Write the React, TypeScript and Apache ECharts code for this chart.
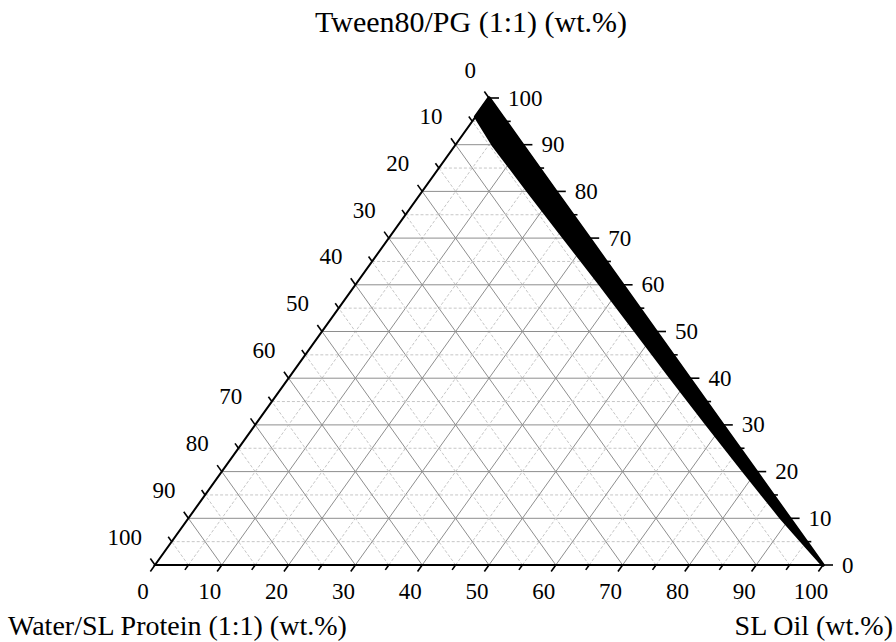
import React, { useEffect, useRef } from "react";
import * as echarts from "echarts";

// ---- axis values ----
const tickValues = [0, 10, 20, 30, 40, 50, 60, 70, 80, 90, 100];
const tickLabels = ["0", "10", "20", "30", "40", "50", "60", "70", "80", "90", "100"];
const minorValues = [5, 15, 25, 35, 45, 55, 65, 75, 85, 95];
const gridValues = [5, 10, 15, 20, 25, 30, 35, 40, 45, 50, 55, 60, 65, 70, 75, 80, 85, 90, 95];

// ---- shaded region: Tween level vs. inner Water boundary (wt.%) ----
const bandTween = [100, 96, 90, 80, 70, 60, 50, 40, 30, 20, 10, 4, 0];
const bandWater = [0, 4, 4.4, 4.1, 3.7, 3.3, 3.0, 2.7, 2.3, 1.8, 1.2, 0.5, 0];

// ---- titles ----
const titleTop = "Tween80/PG (1:1) (wt.%)";
const titleLeft = "Water/SL Protein (1:1) (wt.%)";
const titleRight = "SL Oil (wt.%)";

const FONT = "'Liberation Serif', 'Times New Roman', serif";

// ternary (water, tween) -> cartesian (x, y) on a 0..100 frame
const toXY = (water: number, tween: number) => [100 - water - tween / 2, tween];

// axis positions: 0 = bottom (SL Oil), 1 = left (Water), 2 = right (Tween)
const axisPoint = (axis: number, v: number) => {
  if (axis === 0) return toXY(100 - v, 0);
  if (axis === 1) return toXY(v, 100 - v);
  return toXY(0, v);
};

const gridLines: number[][] = [];
gridValues.forEach((v) => {
  const major = v % 10 === 0 ? 1 : 0;
  const a1 = toXY(100 - v, v), a2 = toXY(0, v); // constant Tween
  gridLines.push([a1[0], a1[1], a2[0], a2[1], major]);
  const b1 = toXY(100 - v, 0), b2 = toXY(0, 100 - v); // constant SL Oil
  gridLines.push([b1[0], b1[1], b2[0], b2[1], major]);
  const c1 = toXY(v, 0), c2 = toXY(v, 100 - v); // constant Water
  gridLines.push([c1[0], c1[1], c2[0], c2[1], major]);
});

const tickData: number[][] = [];
[0, 1, 2].forEach((ax) => {
  tickValues.forEach((v) => tickData.push([ax, v, 1]));
  minorValues.forEach((v) => tickData.push([ax, v, 0]));
});

const labelData: number[][] = [];
[0, 1, 2].forEach((ax) => tickValues.forEach((v, i) => labelData.push([ax, v, i])));

const unit = (a: number[], b: number[]) => {
  const dx = b[0] - a[0], dy = b[1] - a[1];
  const l = Math.hypot(dx, dy) || 1;
  return [dx / l, dy / l];
};

export default function App() {
  const ref = useRef<HTMLDivElement>(null);
  useEffect(() => {
    if (!ref.current) return;
    const chart = echarts.init(ref.current, undefined, { renderer: "svg" });
    const option: any = {
      animation: false,
      backgroundColor: "#ffffff",
      grid: { left: 155, right: 73, top: 98, bottom: 77 },
      xAxis: { type: "value", min: 0, max: 100, show: false },
      yAxis: { type: "value", min: 0, max: 100, show: false },
      graphic: [
        {
          type: "text",
          x: 471,
          y: 21,
          style: { text: titleTop, font: `30px ${FONT}`, fill: "#000", align: "center", verticalAlign: "middle", textAlign: "center", textVerticalAlign: "middle" },
        },
        {
          type: "text",
          x: 8,
          y: 625,
          style: { text: titleLeft, font: `28px ${FONT}`, fill: "#000", align: "left", verticalAlign: "middle", textAlign: "left", textVerticalAlign: "middle" },
        },
        {
          type: "text",
          x: 893,
          y: 625,
          style: { text: titleRight, font: `28px ${FONT}`, fill: "#000", align: "right", verticalAlign: "middle", textAlign: "right", textVerticalAlign: "middle" },
        },
      ],
      series: [
        {
          type: "custom",
          name: "grid",
          z: 1,
          silent: true,
          encode: { x: [0, 2], y: [1, 3] },
          data: gridLines,
          renderItem: (params: any, api: any) => {
            const p1 = api.coord([api.value(0), api.value(1)]);
            const p2 = api.coord([api.value(2), api.value(3)]);
            const major = api.value(4) === 1;
            return {
              type: "line",
              shape: { x1: p1[0], y1: p1[1], x2: p2[0], y2: p2[1] },
              style: {
                stroke: major ? "#8e8e8e" : "#c6c6c6",
                lineWidth: 1,
                lineDash: major ? null : [3, 2],
              },
            };
          },
        },
        {
          type: "custom",
          name: "band",
          z: 3,
          silent: true,
          data: [[0, 0]],
          renderItem: (params: any, api: any) => {
            const pts: number[][] = [];
            bandTween.forEach((t) => pts.push(api.coord(toXY(0, t))));
            for (let i = bandTween.length - 1; i >= 0; i--) {
              const t = bandTween[i];
              const w = Math.min(bandWater[i], 100 - t);
              pts.push(api.coord(toXY(w, t)));
            }
            return {
              type: "polygon",
              shape: { points: pts },
              style: { fill: "#000", stroke: "#000", lineWidth: 3.5, lineJoin: "round" },
            };
          },
        },
        {
          type: "custom",
          name: "frame",
          z: 4,
          silent: true,
          data: tickData,
          renderItem: (params: any, api: any) => {
            const children: any[] = [];
            if (params.dataIndex === 0) {
              const A = api.coord([0, 0]);
              const B = api.coord([100, 0]);
              const C = api.coord([50, 100]);
              children.push({
                type: "polygon",
                shape: { points: [A, B, C] },
                style: { fill: null, stroke: "#000", lineWidth: 2, lineJoin: "miter" },
              });
            }
            const ax = api.value(0);
            const v = api.value(1);
            const major = api.value(2) === 1;
            const p = api.coord(axisPoint(ax, v));
            let d: number[];
            if (ax === 0) {
              const u = unit(api.coord([0, 0]), api.coord([50, 100]));
              d = [-u[0], -u[1]];
            } else if (ax === 1) {
              d = unit(api.coord([100, 0]), api.coord([50, 100]));
            } else {
              d = [1, 0];
            }
            const len = ax === 2 ? (major ? 10 : 5) : major ? 8 : 6;
            children.push({
              type: "line",
              shape: { x1: p[0], y1: p[1], x2: p[0] + d[0] * len, y2: p[1] + d[1] * len },
              style: { stroke: "#000", lineWidth: 1.6 },
            });
            return { type: "group", children };
          },
        },
        {
          type: "custom",
          name: "labels",
          z: 5,
          silent: true,
          data: labelData,
          renderItem: (params: any, api: any) => {
            const ax = api.value(0);
            const v = api.value(1);
            const idx = api.value(2);
            const p = api.coord(axisPoint(ax, v));
            let x = p[0], y = p[1], align = "center";
            if (ax === 0) {
              x += -12; y += 26; align = "center";
            } else if (ax === 1) {
              x += -13; y += -28; align = "right";
            } else {
              x += 19; align = "left";
            }
            return {
              type: "text",
              x,
              y,
              style: {
                text: tickLabels[idx],
                font: `23px ${FONT}`,
                fill: "#000",
                align,
                verticalAlign: "middle",
                textAlign: align,
                textVerticalAlign: "middle",
              },
            };
          },
        },
      ],
    };
    chart.setOption(option);
    return () => chart.dispose();
  }, []);
  return (
    <div
      ref={ref}
      style={{ position: "fixed", left: 0, top: 0, width: 896, height: 642, background: "#fff" }}
    />
  );
}
